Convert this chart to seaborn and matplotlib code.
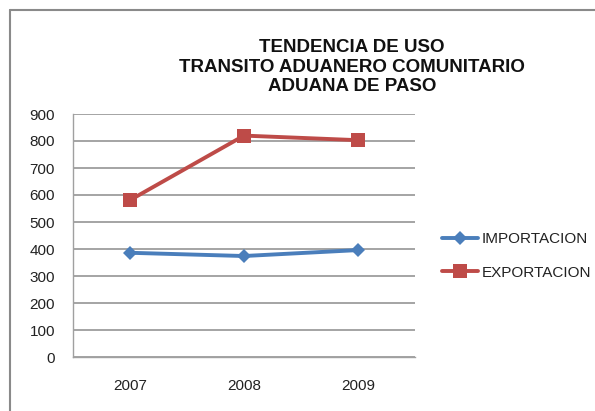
import matplotlib
matplotlib.use("Agg")
import matplotlib.pyplot as plt
import seaborn as sns
import pandas as pd
from matplotlib.lines import Line2D

years = ["2007", "2008", "2009"]
importacion = [386, 374, 396]
exportacion = [581, 820, 803]
series_names = ["IMPORTACION", "EXPORTACION"]
yticks = [0, 100, 200, 300, 400, 500, 600, 700, 800, 900]

sns.set_style("white")
plt.rcParams['font.family'] = ['Liberation Sans', 'DejaVu Sans']

df = pd.DataFrame({
    "year": years * 2,
    "value": importacion + exportacion,
    "serie": [series_names[0]] * 3 + [series_names[1]] * 3,
})
df["x"] = df["year"].map({y: i for i, y in enumerate(years)})

fig = plt.figure(figsize=(5.95, 4.11), dpi=100)
ax = fig.add_axes([73/595, 1-357/411, (415-73)/595, (357-114)/411])

colors = {"IMPORTACION": "#4a7ebb", "EXPORTACION": "#be4b48"}
markers = {"IMPORTACION": "D", "EXPORTACION": "s"}
msizes = {"IMPORTACION": 7, "EXPORTACION": 10}
for name in series_names:
    sub = df[df["serie"] == name]
    sns.lineplot(data=sub, x="x", y="value", ax=ax, color=colors[name],
                 linewidth=2.8, marker=markers[name], markersize=msizes[name],
                 markeredgewidth=0, legend=False)

ax.set_xlim(-0.5, 2.5)
ax.set_ylim(0, 900)
ax.set_yticks(yticks)
ax.set_yticklabels([str(v) for v in yticks], fontsize=11, color="#222222")
ax.set_xticks(range(len(years)))
ax.set_xticklabels(years, fontsize=11, color="#222222")
ax.tick_params(axis="y", length=0, pad=13)
ax.tick_params(axis="x", length=0, pad=16)
ax.yaxis.grid(True, color="#8c8c8c", linewidth=1.1)
ax.xaxis.grid(False)
ax.set_xlabel("")
ax.set_ylabel("")
for s in ["top", "right"]:
    ax.spines[s].set_visible(False)
for s in ["left", "bottom"]:
    ax.spines[s].set_color("#a0a0a0")
    ax.spines[s].set_linewidth(1)

handles = [Line2D([0], [0], color=colors[n], marker=markers[n], linewidth=2.8,
                  markersize=msizes[n], markeredgewidth=0) for n in series_names]
fig.legend(handles, series_names, loc="center left", bbox_to_anchor=(442/595, 1-256/411),
           frameon=False, prop={"size": 11}, handlelength=2.35, borderpad=0,
           borderaxespad=0, handletextpad=0.25, labelspacing=1.25, labelcolor="#222222")

fig.text(352/595, 1-67/411, "TENDENCIA DE USO\nTRANSITO ADUANERO COMUNITARIO\nADUANA DE PASO",
         ha="center", va="center", fontsize=13.5, fontweight="bold", linespacing=1.2,
         color="#111111")

fig.add_artist(Line2D([10/595, 10/595], [0, 1-10/411], transform=fig.transFigure,
                      color="#8a8a8a", linewidth=1.5))
fig.add_artist(Line2D([10/595, 1], [1-10/411, 1-10/411], transform=fig.transFigure,
                      color="#8a8a8a", linewidth=1.5))

fig.savefig("out.png", dpi=100)
